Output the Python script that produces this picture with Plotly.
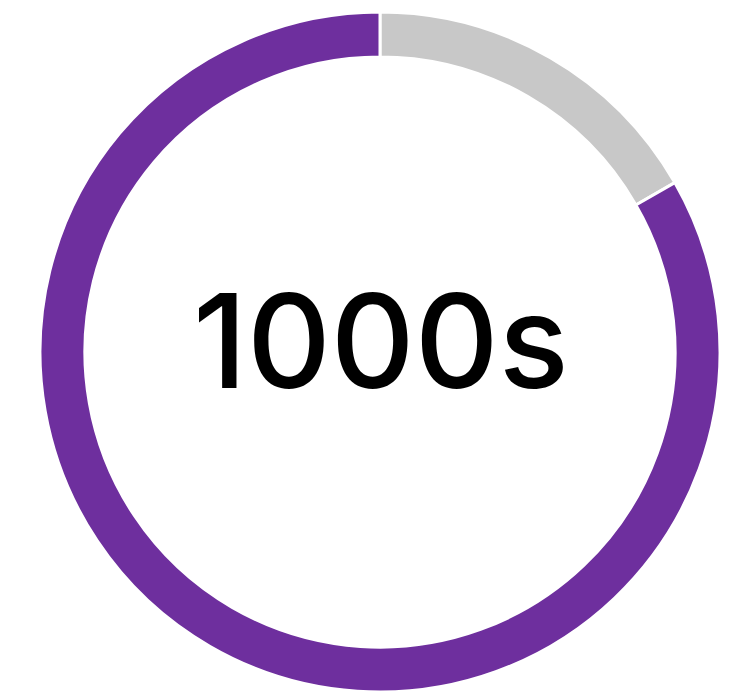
import plotly.graph_objects as go

labels = ["Other", "Share"]
values = [16.7, 83.3]
colors = ["#C8C8C8", "#6E2F9E"]
center_text = "1000s"

W, H = 739, 693
fig = go.Figure(go.Pie(
    labels=labels, values=values, hole=0.868, sort=False,
    direction="clockwise", rotation=0,
    marker=dict(colors=colors, line=dict(color="white", width=3)),
    textinfo="none", hoverinfo="label+percent", showlegend=False,
    domain=dict(x=[40 / W, 720 / W], y=[1 / H, 681 / H]),
))
fig.add_annotation(
    text=center_text, x=381 / W, y=(H - 340) / H, xref="paper", yref="paper",
    showarrow=False, xanchor="center", yanchor="middle",
    font=dict(family="Inter", size=130, color="black", weight=500),
)
fig.update_layout(width=W, height=H, margin=dict(l=0, r=0, t=0, b=0),
                  paper_bgcolor="white", plot_bgcolor="white")
fig.write_html("out.html")
